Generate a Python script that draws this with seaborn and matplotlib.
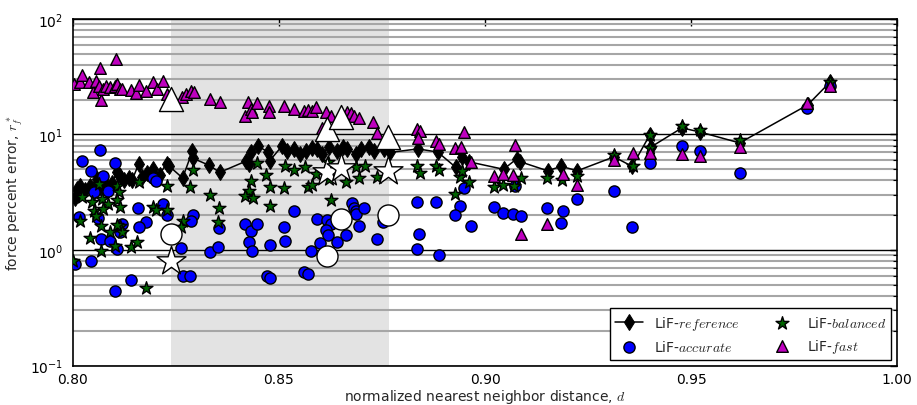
import numpy as np
import pandas as pd
import matplotlib
matplotlib.use("Agg")
import matplotlib.pyplot as plt
import seaborn as sns

# ---------------- data ----------------
ref_x = [0.8005, 0.8010, 0.8017, 0.8030, 0.8041, 0.8050, 0.8058, 0.8065, 0.8075, 0.8085,
         0.8095, 0.8106, 0.8114, 0.8125, 0.8135, 0.8143, 0.8160, 0.8168, 0.8179, 0.8193,
         0.8210, 0.8227, 0.8234, 0.8266, 0.8290, 0.8292, 0.8331, 0.8356, 0.8421, 0.8426,
         0.8433, 0.8448, 0.8474, 0.8477, 0.8508, 0.8520, 0.8537, 0.8550, 0.8566, 0.8580,
         0.8593, 0.8605, 0.8622, 0.8641, 0.8655, 0.8665, 0.8687, 0.8699, 0.8718, 0.8730,
         0.8755, 0.8770, 0.8837, 0.8885, 0.8929, 0.8944, 0.8961, 0.9045, 0.9077, 0.9086,
         0.9152, 0.9185, 0.9224, 0.9313, 0.9357, 0.9400, 0.9403, 0.9478, 0.9522, 0.9618,
         0.9783, 0.9838]
ref_y = [2.8, 3.4, 3.6, 3.3, 3.6, 3.2, 4.1, 3.5, 3.9, 3.3,
         3.8, 4.7, 4.4, 4.0, 4.2, 4.0, 5.6, 4.3, 4.6, 5.0,
         4.5, 5.6, 5.3, 4.2, 7.2, 6.2, 5.4, 4.7, 5.9, 5.5,
         7.0, 8.0, 7.0, 5.9, 8.0, 7.2, 7.5, 6.8, 7.2, 7.6,
         7.5, 6.8, 7.8, 7.2, 7.8, 7.5, 6.8, 7.5, 7.8, 7.2,
         7.5, 7.0, 7.5, 7.05, 5.2, 6.4, 5.8, 5.0, 6.15, 5.8,
         4.85, 5.3, 4.85, 6.4, 5.3, 9.9, 7.8, 11.4, 10.5, 8.45,
         18.0, 28.5]

acc_x = [0.8065, 0.8021, 0.8103, 0.8043, 0.8072, 0.8084, 0.8052, 0.8193, 0.8202, 0.8157,
         0.8219, 0.8227, 0.8176, 0.8159, 0.8014, 0.8060, 0.8118, 0.8113, 0.8067, 0.8091,
         0.8108, 0.8043, 0.8004, 0.8140, 0.8103,
         0.8292, 0.8287, 0.8355, 0.8418, 0.8432, 0.8447, 0.8427, 0.8434, 0.8478, 0.8512,
         0.8515, 0.8263, 0.8333, 0.8352, 0.8268, 0.8285, 0.8471, 0.8478,
         0.8536, 0.8592, 0.8616, 0.8626, 0.8614, 0.8619, 0.8599, 0.8577, 0.8641, 0.8662,
         0.8677, 0.8682, 0.8687, 0.8687, 0.8706, 0.8694, 0.8737, 0.8752, 0.8560, 0.8570,
         0.8834, 0.8880, 0.8841, 0.8836, 0.8889, 0.8948, 0.8940, 0.8926, 0.8965, 0.9023,
         0.9044, 0.9068, 0.9088, 0.9073, 0.9151, 0.9189, 0.9185, 0.9223, 0.9312, 0.9356,
         0.9400, 0.9477, 0.9521, 0.9618, 0.9782, 0.9838]
acc_y = [7.36, 5.91, 5.68, 4.84, 4.38, 3.25, 3.19, 4.21, 3.97, 2.30,
         2.51, 2.02, 1.75, 1.59, 1.94, 1.90, 1.69, 1.44, 1.25, 1.20,
         1.02, 0.81, 0.76, 0.55, 0.44,
         2.02, 1.79, 1.56, 1.69, 1.47, 1.69, 1.18, 0.985, 1.11, 1.59,
         1.20, 1.04, 0.965, 1.07, 0.60, 0.60, 0.60, 0.575,
         2.18, 1.86, 1.82, 1.69, 1.50, 1.35, 1.15, 0.985, 1.18, 1.35,
         2.56, 2.32, 2.18, 2.04, 2.32, 1.62, 1.25, 1.75, 0.65, 0.62,
         2.62, 2.62, 1.38, 1.02, 0.90, 3.45, 2.41, 2.02, 1.62, 2.36,
         2.10, 2.04, 1.98, 3.59, 2.32, 2.18, 1.72, 2.75, 3.22, 1.59,
         5.68, 7.97, 7.2, 4.65, 17.0, 26.3]

bal_x = [0.8227, 0.8160, 0.8021, 0.8062, 0.8106, 0.8111, 0.8106, 0.8113, 0.8045, 0.8070,
         0.8084, 0.8052, 0.8072, 0.8057, 0.8017, 0.8067, 0.8089, 0.8113, 0.8120, 0.8193,
         0.8202, 0.8229, 0.8041, 0.8067, 0.8101, 0.8142, 0.8156, 0.8000, 0.8176, 0.8108,
         0.8292, 0.8285, 0.8333, 0.8355, 0.8352, 0.8268, 0.8263, 0.8433, 0.8428, 0.8418,
         0.8437, 0.8447, 0.8469, 0.8478, 0.8478, 0.8512, 0.8515, 0.8536, 0.8563, 0.8570,
         0.8580, 0.8589, 0.8626, 0.8662, 0.8687, 0.8694, 0.8708, 0.8737, 0.8619, 0.8622,
         0.8834, 0.8843, 0.8880, 0.8889, 0.8940, 0.8945, 0.8962, 0.8926, 0.9023, 0.9044,
         0.9071, 0.9088, 0.9151, 0.9187, 0.9223, 0.9312, 0.9358, 0.9400, 0.9400, 0.9477,
         0.9521, 0.9618, 0.9838]
bal_y = [3.59, 3.89, 2.88, 3.73, 3.59, 3.19, 2.72, 2.36, 2.62, 2.77,
         2.51, 2.18, 2.27, 1.98, 1.79, 1.62, 1.44, 1.62, 1.44, 2.36,
         2.23, 2.23, 1.28, 0.985, 1.09, 1.07, 1.18, 0.81, 0.47, 1.65,
         4.94, 3.52, 3.0, 2.32, 1.75, 1.79, 1.59, 3.97, 3.25, 2.94,
         2.83, 5.68, 4.47, 3.52, 2.41, 3.45, 5.35, 4.94, 5.24, 3.52,
         3.66, 4.56, 2.72, 3.89, 5.24, 4.21, 5.35, 4.30, 5.79, 4.13,
         5.35, 4.65, 5.35, 4.94, 4.30, 4.84, 3.89, 3.06, 3.52, 3.66,
         3.59, 4.21, 4.21, 4.05, 4.34, 6.6, 5.35, 9.9, 7.7, 11.9,
         10.96, 8.98, 28.5]

fast_x = [0.8002, 0.8016, 0.8021, 0.8065, 0.8104, 0.8038, 0.8048, 0.8057, 0.8062, 0.8067,
          0.8072, 0.8079, 0.8089, 0.8101, 0.8108, 0.8113, 0.8120, 0.8142, 0.8154, 0.8161,
          0.8176, 0.8193, 0.8203, 0.8219, 0.8227, 0.8264, 0.8274, 0.8286, 0.8294, 0.8333,
          0.8357, 0.8425, 0.8418, 0.8432, 0.8434, 0.8447, 0.8476, 0.8476, 0.8512, 0.8536,
          0.8560, 0.8570, 0.8580, 0.8589, 0.8614, 0.8626, 0.8604, 0.8665, 0.8675, 0.8682,
          0.8694, 0.8727, 0.8737,
          0.8834, 0.8843, 0.8837, 0.8880, 0.8889, 0.8926, 0.8942, 0.8948, 0.8965, 0.9023,
          0.9044, 0.9068, 0.9073, 0.9088, 0.9151, 0.9189, 0.9223, 0.9312, 0.9358, 0.9400,
          0.9477, 0.9521, 0.9618, 0.9782, 0.9838]
fast_y = [27.4, 28.5, 32.8, 37.7, 45.1, 28.5, 23.4, 29.1, 26.3, 19.9,
          24.8, 26.3, 25.8, 26.3, 27.4, 24.8, 24.8, 24.3, 22.9, 26.8,
          23.8, 28.5, 24.8, 29.1, 22.5, 21.1, 22.5, 23.8, 23.4, 20.3,
          19.1, 19.1, 14.4, 16.6, 15.7, 18.6, 17.7, 15.7, 17.7, 16.6,
          16.0, 16.3, 16.0, 17.3, 15.7, 14.5, 11.4, 15.7, 15.4, 14.4,
          13.8, 12.9, 10.3,
          11.2, 10.7, 9.35, 8.8, 8.3, 7.66, 7.8, 10.5, 5.8, 4.38,
          4.52, 4.45, 8.1, 1.38, 1.67, 4.52, 3.66, 6.0, 6.9, 6.9,
          6.8, 6.5, 7.8, 18.6, 26.3]

# highlighted (large white) configurations
hi_x = [0.8237, 0.8616, 0.8650, 0.8764]
hi_fast = [20.3, 11.2, 14.2, 9.6]
hi_acc = [1.38, 0.89, 1.86, 2.02]
hi_bal = [0.81, 4.75, 5.15, 4.84]

span = (0.8237, 0.8767)
xticks = [0.80, 0.85, 0.90, 0.95, 1.00]

labels = ["LiF-$reference$", "LiF-$accurate$", "LiF-$balanced$", "LiF-$fast$"]

# ---------------- style ----------------
sns.set_style("white")
plt.rcParams["font.family"] = ["DejaVu Sans"]
plt.rcParams["mathtext.fontset"] = "cm"
plt.rcParams["font.size"] = 10

fig = plt.figure(figsize=(9.17, 4.06), dpi=100)
ax = fig.add_axes([0.0796, 0.097, 0.8986, 0.854])

ax.set_yscale("log")
ax.axvspan(span[0], span[1], color="#e3e3e3", zorder=0, lw=0)

edge = dict(edgecolor="black", linewidth=1.0)

sns.lineplot(x=ref_x, y=ref_y, ax=ax, color="black", lw=1.1, marker="d",
             markersize=8, markeredgecolor="black", markerfacecolor="black",
             estimator=None, sort=True, label=labels[0], zorder=3)
sns.scatterplot(x=acc_x, y=acc_y, ax=ax, marker="o", color="#0000ff", s=65,
                label=labels[1], zorder=4, **edge)
sns.scatterplot(x=bal_x, y=bal_y, ax=ax, marker="*", color="#006400", s=95,
                label=labels[2], zorder=5, **edge)
sns.scatterplot(x=fast_x, y=fast_y, ax=ax, marker="^", color="#bf00bf", s=70,
                label=labels[3], zorder=6, **edge)

# highlighted large white markers
sns.scatterplot(x=hi_x, y=hi_fast, ax=ax, marker="^", color="white", s=300,
                legend=False, zorder=7, **edge)
sns.scatterplot(x=hi_x, y=hi_acc, ax=ax, marker="o", color="white", s=230,
                legend=False, zorder=7, **edge)
sns.scatterplot(x=hi_x, y=hi_bal, ax=ax, marker="*", color="white", s=480,
                legend=False, zorder=7, **edge)

ax.set_xlim(0.80, 1.00)
ax.set_ylim(0.1, 100)
ax.set_xticks(xticks)
ax.set_xticklabels([f"{t:.2f}" for t in xticks])

ax.yaxis.grid(True, which="minor", color="#a6a6a6", lw=1.5, zorder=1)
ax.yaxis.grid(True, which="major", color="black", lw=1.0, zorder=1)
ax.xaxis.grid(False)
ax.set_axisbelow(True)

ax.tick_params(which="both", direction="in", top=True, right=True,
               labelsize=10, colors="black")
ax.tick_params(which="major", length=5, width=1)
ax.tick_params(which="minor", length=3, width=0.8)
ax.tick_params(axis="y", which="major", pad=7)
ax.tick_params(axis="x", which="major", pad=4.5)
for s in ax.spines.values():
    s.set_color("black")
    s.set_linewidth(1.2)

ax.set_xlabel("normalized nearest neighbor distance, $d$", fontsize=10, labelpad=0.5)
ax.set_ylabel("force percent error, $r_f^*$", fontsize=10, labelpad=4)

leg = ax.legend(loc="lower right", ncol=2, fontsize=10, frameon=True, fancybox=False,
                framealpha=1, edgecolor="black", borderaxespad=0.4,
                columnspacing=2.0, handletextpad=0.8, scatterpoints=1)
leg.get_frame().set_linewidth(1.0)

fig.savefig("out.png", dpi=100)
